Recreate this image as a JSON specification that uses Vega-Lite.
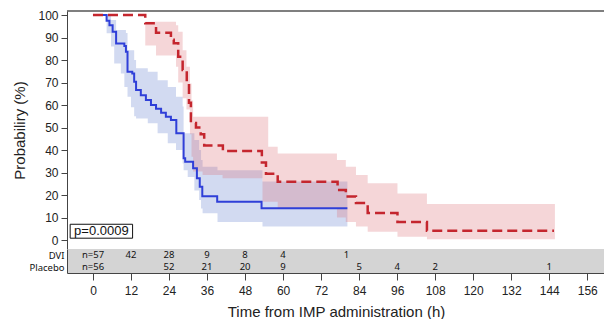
{
  "$schema": "https://vega.github.io/schema/vega-lite/v6.json",
  "padding": {"left": 12, "top": 9, "right": 0, "bottom": 0},
  "autosize": {"type": "pad"},
  "background": "white",
  "spacing": 0,
  "config": {
    "view": {"stroke": null},
    "font": "Liberation Sans",
    "axis": {
      "domainColor": "#444",
      "tickColor": "#444",
      "labelColor": "#222",
      "titleColor": "#222",
      "labelFont": "Liberation Sans",
      "titleFont": "Liberation Sans",
      "labelFontSize": 12,
      "titleFontSize": 15,
      "titleFontWeight": "normal",
      "labelOverlap": false,
      "grid": false
    }
  },
  "datasets": {
    "lines": [
      {"group": "DVI", "t": 0, "s": 100},
      {"group": "DVI", "t": 4.3, "s": 97.5},
      {"group": "DVI", "t": 5.2, "s": 95.5},
      {"group": "DVI", "t": 6.2, "s": 92.6},
      {"group": "DVI", "t": 7.3, "s": 87.4},
      {"group": "DVI", "t": 9.9, "s": 86.2},
      {"group": "DVI", "t": 10.4, "s": 83.7},
      {"group": "DVI", "t": 10.9, "s": 74.8},
      {"group": "DVI", "t": 12.4, "s": 74},
      {"group": "DVI", "t": 13, "s": 70.4},
      {"group": "DVI", "t": 13.6, "s": 66.7},
      {"group": "DVI", "t": 15.1, "s": 64.4},
      {"group": "DVI", "t": 16.7, "s": 62.2},
      {"group": "DVI", "t": 18.3, "s": 60},
      {"group": "DVI", "t": 19.9, "s": 58.3},
      {"group": "DVI", "t": 21.5, "s": 56.6},
      {"group": "DVI", "t": 23, "s": 54.8},
      {"group": "DVI", "t": 24.6, "s": 53.3},
      {"group": "DVI", "t": 26.3, "s": 47.4},
      {"group": "DVI", "t": 28.6, "s": 36.3},
      {"group": "DVI", "t": 29.1, "s": 34.8},
      {"group": "DVI", "t": 31.6, "s": 31.9},
      {"group": "DVI", "t": 32.8, "s": 27.4},
      {"group": "DVI", "t": 33.7, "s": 23.7},
      {"group": "DVI", "t": 34.5, "s": 19.5},
      {"group": "DVI", "t": 39.2, "s": 17},
      {"group": "DVI", "t": 53.2, "s": 14.1},
      {"group": "DVI", "t": 80.3, "s": 14.1},
      {"group": "Placebo", "t": 0, "s": 100},
      {"group": "Placebo", "t": 16.5, "s": 96.4},
      {"group": "Placebo", "t": 19.9, "s": 92.1},
      {"group": "Placebo", "t": 24.6, "s": 89},
      {"group": "Placebo", "t": 25.5, "s": 87.5},
      {"group": "Placebo", "t": 26.9, "s": 81.5},
      {"group": "Placebo", "t": 28.3, "s": 75.6},
      {"group": "Placebo", "t": 29.6, "s": 70.4},
      {"group": "Placebo", "t": 30.3, "s": 61},
      {"group": "Placebo", "t": 30.9, "s": 52},
      {"group": "Placebo", "t": 32.5, "s": 50},
      {"group": "Placebo", "t": 34, "s": 47},
      {"group": "Placebo", "t": 35.1, "s": 42},
      {"group": "Placebo", "t": 41, "s": 39.6},
      {"group": "Placebo", "t": 53.3, "s": 34.5},
      {"group": "Placebo", "t": 54.6, "s": 29.5},
      {"group": "Placebo", "t": 58.3, "s": 25.9},
      {"group": "Placebo", "t": 77.2, "s": 22.2},
      {"group": "Placebo", "t": 79.8, "s": 19.3},
      {"group": "Placebo", "t": 83, "s": 16.5},
      {"group": "Placebo", "t": 86.7, "s": 12},
      {"group": "Placebo", "t": 96.1, "s": 8},
      {"group": "Placebo", "t": 105.4, "s": 4.1},
      {"group": "Placebo", "t": 145.5, "s": 4.1}
    ],
    "bands": [
      {"group": "DVI", "t": 0, "lo": 100, "hi": 100},
      {"group": "DVI", "t": 4.3, "lo": 91.9, "hi": 100},
      {"group": "DVI", "t": 5.7, "lo": 86, "hi": 97.8},
      {"group": "DVI", "t": 6.7, "lo": 78.5, "hi": 97.8},
      {"group": "DVI", "t": 7.3, "lo": 78.5, "hi": 93.3},
      {"group": "DVI", "t": 8.8, "lo": 74, "hi": 93.3},
      {"group": "DVI", "t": 9.9, "lo": 68, "hi": 93.3},
      {"group": "DVI", "t": 10.4, "lo": 68, "hi": 92},
      {"group": "DVI", "t": 10.9, "lo": 63.7, "hi": 84.4},
      {"group": "DVI", "t": 12, "lo": 59, "hi": 84.4},
      {"group": "DVI", "t": 13, "lo": 55, "hi": 80},
      {"group": "DVI", "t": 13.6, "lo": 54, "hi": 76.3},
      {"group": "DVI", "t": 17.3, "lo": 51.9, "hi": 74.8},
      {"group": "DVI", "t": 20.4, "lo": 47.4, "hi": 71},
      {"group": "DVI", "t": 23.6, "lo": 43, "hi": 68},
      {"group": "DVI", "t": 26.2, "lo": 40, "hi": 63.7},
      {"group": "DVI", "t": 28.3, "lo": 34, "hi": 59.3},
      {"group": "DVI", "t": 28.6, "lo": 31, "hi": 47.4},
      {"group": "DVI", "t": 29.9, "lo": 28, "hi": 47.4},
      {"group": "DVI", "t": 32, "lo": 22, "hi": 44.4},
      {"group": "DVI", "t": 33.5, "lo": 17.8, "hi": 40},
      {"group": "DVI", "t": 34.1, "lo": 14, "hi": 35.6},
      {"group": "DVI", "t": 34.6, "lo": 11.9, "hi": 32.6},
      {"group": "DVI", "t": 39.3, "lo": 8, "hi": 31},
      {"group": "DVI", "t": 53.5, "lo": 6, "hi": 26},
      {"group": "DVI", "t": 80.3, "lo": 6, "hi": 26},
      {"group": "Placebo", "t": 0, "lo": 100, "hi": 100},
      {"group": "Placebo", "t": 16.5, "lo": 86.5, "hi": 97},
      {"group": "Placebo", "t": 19.9, "lo": 82, "hi": 97},
      {"group": "Placebo", "t": 26.2, "lo": 77, "hi": 95.5},
      {"group": "Placebo", "t": 26.9, "lo": 70, "hi": 92.6},
      {"group": "Placebo", "t": 28.3, "lo": 63, "hi": 84.4},
      {"group": "Placebo", "t": 29.5, "lo": 58, "hi": 77},
      {"group": "Placebo", "t": 30.6, "lo": 47, "hi": 69.6},
      {"group": "Placebo", "t": 31.1, "lo": 37, "hi": 62},
      {"group": "Placebo", "t": 31.6, "lo": 30.4, "hi": 54.8},
      {"group": "Placebo", "t": 34.6, "lo": 28.9, "hi": 54.8},
      {"group": "Placebo", "t": 40.9, "lo": 27.4, "hi": 54.8},
      {"group": "Placebo", "t": 53.5, "lo": 17, "hi": 54.8},
      {"group": "Placebo", "t": 55.3, "lo": 17, "hi": 41.5},
      {"group": "Placebo", "t": 58.3, "lo": 14, "hi": 38.5},
      {"group": "Placebo", "t": 77, "lo": 10, "hi": 35.6},
      {"group": "Placebo", "t": 79.8, "lo": 8, "hi": 32.6},
      {"group": "Placebo", "t": 83, "lo": 6, "hi": 28.9},
      {"group": "Placebo", "t": 86.7, "lo": 3.7, "hi": 25.2},
      {"group": "Placebo", "t": 96.1, "lo": 1.5, "hi": 20.7},
      {"group": "Placebo", "t": 105.4, "lo": 0.3, "hi": 16},
      {"group": "Placebo", "t": 145.8, "lo": 0.3, "hi": 16}
    ],
    "risk": [
      {"group": "DVI", "t": 0, "n": "n=57"},
      {"group": "DVI", "t": 12, "n": "42"},
      {"group": "DVI", "t": 24, "n": "28"},
      {"group": "DVI", "t": 36, "n": "9"},
      {"group": "DVI", "t": 48, "n": "8"},
      {"group": "DVI", "t": 60, "n": "4"},
      {"group": "DVI", "t": 80, "n": "1"},
      {"group": "Placebo", "t": 0, "n": "n=56"},
      {"group": "Placebo", "t": 24, "n": "52"},
      {"group": "Placebo", "t": 36, "n": "21"},
      {"group": "Placebo", "t": 48, "n": "20"},
      {"group": "Placebo", "t": 60, "n": "9"},
      {"group": "Placebo", "t": 84, "n": "5"},
      {"group": "Placebo", "t": 96, "n": "4"},
      {"group": "Placebo", "t": 108, "n": "2"},
      {"group": "Placebo", "t": 144, "n": "1"}
    ],
    "pbox": [
      {"x1": -7.2, "x2": 12.5, "y1": 0.8, "y2": 7.0, "xm": 2.65, "ym": 3.9, "label": "p=0.0009"}
    ],
    "frame": [{"top": 101.8}]
  },
  "vconcat": [
    {
      "width": 538,
      "height": 238,
      "encoding": {
        "x": {"type": "quantitative", "scale": {"domain": [-8.2, 161.6], "nice": false, "zero": false}, "axis": null},
        "y": {"type": "quantitative", "scale": {"domain": [-4, 101.8], "nice": false, "zero": false},
              "axis": {"values": [0, 10, 20, 30, 40, 50, 60, 70, 80, 90, 100], "labelOverlap": false, "title": "Probabiliry (%)", "tickSize": 6, "labelPadding": 3, "titlePadding": 10}}
      },
      "layer": [
        {
          "data": {"name": "bands"},
          "transform": [{"filter": "datum.group === 'DVI'"}],
          "mark": {"type": "area", "interpolate": "step-after", "color": "#6a86d2", "opacity": 0.3},
          "encoding": {
            "x": {"field": "t"},
            "y": {"field": "lo"},
            "y2": {"field": "hi"}
          }
        },
        {
          "data": {"name": "bands"},
          "transform": [{"filter": "datum.group === 'Placebo'"}],
          "mark": {"type": "area", "interpolate": "step-after", "color": "#dc6d74", "opacity": 0.28},
          "encoding": {
            "x": {"field": "t"},
            "y": {"field": "lo"},
            "y2": {"field": "hi"}
          }
        },
        {
          "data": {"name": "lines"},
          "transform": [{"filter": "datum.group === 'DVI'"}],
          "mark": {"type": "line", "interpolate": "step-after", "color": "#2f3fd8", "strokeWidth": 2},
          "encoding": {
            "x": {"field": "t"},
            "y": {"field": "s"}
          }
        },
        {
          "data": {"name": "lines"},
          "transform": [{"filter": "datum.group === 'Placebo'"}],
          "mark": {"type": "line", "interpolate": "step-after", "color": "#c4262e", "strokeWidth": 2.5, "strokeDash": [10, 5]},
          "encoding": {
            "x": {"field": "t"},
            "y": {"field": "s"}
          }
        },
        {
          "data": {"name": "frame"},
          "mark": {"type": "rule", "color": "#555", "strokeWidth": 1.5},
          "encoding": {
            "x": null,
            "y": {"field": "top"}
          }
        },
        {
          "data": {"name": "pbox"},
          "mark": {"type": "rect", "fill": "white", "stroke": "#111", "strokeWidth": 1},
          "encoding": {
            "x": {"field": "x1"},
            "x2": {"field": "x2"},
            "y": {"field": "y1"},
            "y2": {"field": "y2"}
          }
        },
        {
          "data": {"name": "pbox"},
          "mark": {"type": "text", "font": "Liberation Sans", "fontSize": 13, "color": "#111", "align": "center", "baseline": "middle"},
          "encoding": {
            "x": {"field": "xm"},
            "y": {"field": "ym"},
            "text": {"field": "label"}
          }
        }
      ]
    },
    {
      "width": 538,
      "height": 24,
      "view": {"fill": "#d4d4d4", "stroke": null},
      "data": {"name": "risk"},
      "mark": {"type": "text", "font": "Noto Sans", "fontSize": 9.5, "color": "#111", "align": "center", "baseline": "middle"},
      "encoding": {
        "x": {"field": "t", "type": "quantitative", "scale": {"domain": [-8.2, 161.6], "nice": false, "zero": false},
              "axis": {"values": [0, 12, 24, 36, 48, 60, 72, 84, 96, 108, 120, 132, 144, 156], "title": "Time from IMP administration (h)", "tickSize": 7, "labelPadding": 5, "titlePadding": 8}},
        "y": {"field": "group", "type": "nominal", "sort": ["DVI", "Placebo"], "scale": {"paddingInner": 0, "paddingOuter": 0},
              "axis": {"title": null, "ticks": false, "labelPadding": 3, "labelFont": "Noto Sans", "labelFontSize": 9.5, "labelColor": "#111"}},
        "text": {"field": "n"}
      }
    }
  ]
}
